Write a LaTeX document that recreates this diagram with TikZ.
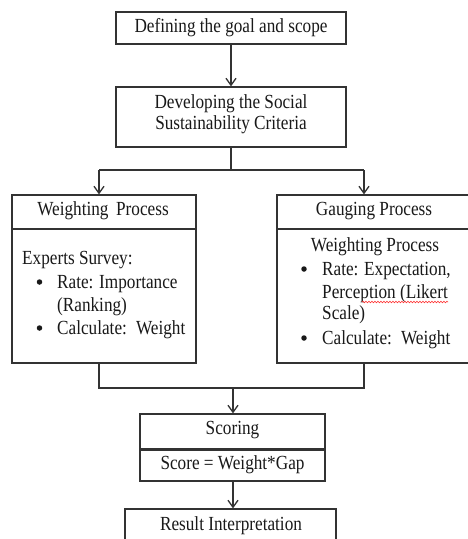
\documentclass[tikz,border=0pt]{standalone}
\usepackage{fontspec}
\setmainfont[FakeStretch=0.86]{Liberation Serif}
\usetikzlibrary{arrows.meta,decorations.pathmorphing}
\begin{document}
\begin{tikzpicture}[x=1pt,y=-1pt,
  every node/.style={font=\fontsize{20}{24}\selectfont, text=black!90},
  boxnode/.style={draw=black!80, line width=1.3pt, rectangle, inner sep=0pt},
  txt/.style={inner sep=0pt},
  lefttxt/.style={inner sep=0pt, anchor=base west},
  bul/.style={circle, fill=black!90, inner sep=0pt, minimum size=5.5pt},
  conn/.style={draw=black!80, line width=1.3pt},
  arr/.style={conn, -{Straight Barb[length=7pt,width=10pt,line width=1.3pt]}}]
\clip (0,0) rectangle (468,539);
\fill[white] (0,0) rectangle (468,539);
% boxes
\node[boxnode, minimum width=230pt, minimum height=32pt] (b1) at (231,28) {};
\node[boxnode, minimum width=230pt, minimum height=60pt] (b2) at (231,117) {};
\node[boxnode, minimum width=184pt, minimum height=34pt] (lh) at (104,212) {};
\node[boxnode, minimum width=184pt, minimum height=134pt] (lb) at (104,296) {};
\node[boxnode, minimum width=194pt, minimum height=34pt] (rh) at (374,212) {};
\node[boxnode, minimum width=194pt, minimum height=134pt] (rb) at (374,296) {};
\node[boxnode, minimum width=185pt, minimum height=35pt] (sh) at (232.5,431.5) {};
\node[boxnode, minimum width=185pt, minimum height=32pt] (sb) at (232.5,465) {};
\node[boxnode, minimum width=211pt, minimum height=44pt] (rs) at (230.5,531) {};
% texts
\node[txt] (t1) at (231,28) {Defining the goal and scope};
\node[lefttxt, anchor=base] (t2a) at (231,108) {Developing the Social};
\node[lefttxt, anchor=base] (t2b) at (231,129) {Sustainability Criteria};
\node[txt] (tlh) at (103,211) {Weighting\, Process};
\node[lefttxt] (tl1) at (22,264) {Experts Survey:};
\node[bul] (bl1) at (39.5,282) {};
\node[lefttxt] (tl2) at (57,288) {Rate: Importance};
\node[lefttxt] (tl3) at (57,311) {(Ranking)};
\node[bul] (bl2) at (39.5,328) {};
\node[lefttxt] (tl4) at (57,334) {Calculate:\, Weight};
\node[txt] (trh) at (374,211) {Gauging Process};
\node[lefttxt, anchor=base] (tr1) at (375,251) {Weighting Process};
\node[bul] (br1) at (304,269) {};
\node[lefttxt] (tr2) at (322,275) {Rate: Expectation,};
\node[lefttxt] (tr3) at (322,298) {Perception (Likert};
\node[lefttxt] (tr4) at (322,319) {Scale)};
\node[bul] (br2) at (304,338) {};
\node[lefttxt] (tr5) at (322,344) {Calculate:\, Weight};
\node[txt] (tsh) at (232.5,430) {Scoring};
\node[txt] (tsb) at (232.5,465) {Score = Weight*Gap};
\node[lefttxt, anchor=base] (trs) at (231,530) {Result Interpretation};
% spell-check squiggle
\coordinate (sq1) at (362,302);
\coordinate (sq2) at (448,302);
\draw[red!80, line width=0.6pt, decorate, decoration={snake, segment length=3pt, amplitude=0.8pt}] (sq1) -- (sq2);
% double divider in scoring box
\draw[conn, line width=2.2pt] (sh.south west) -- (sh.south east);
% connectors
\draw[arr] (b1.south) -- (b2.north);
\coordinate (sp) at (231,170);
\coordinate (spL) at (99,170);
\coordinate (spR) at (364,170);
\draw[conn] (b2.south) -- (sp);
\draw[conn] (spL) -- (spR);
\draw[arr] (spL) -- (spL |- lh.north);
\draw[arr] (spR) -- (spR |- rh.north);
\coordinate (jL) at (99,388);
\coordinate (jR) at (364,388);
\coordinate (jM) at (233,388);
\draw[conn] (jL |- lb.south) -- (jL) -- (jR) -- (jR |- rb.south);
\draw[arr] (jM) -- (jM |- sh.north);
\draw[arr] (jM |- sb.south) -- (jM |- rs.north);
\end{tikzpicture}
\end{document}
